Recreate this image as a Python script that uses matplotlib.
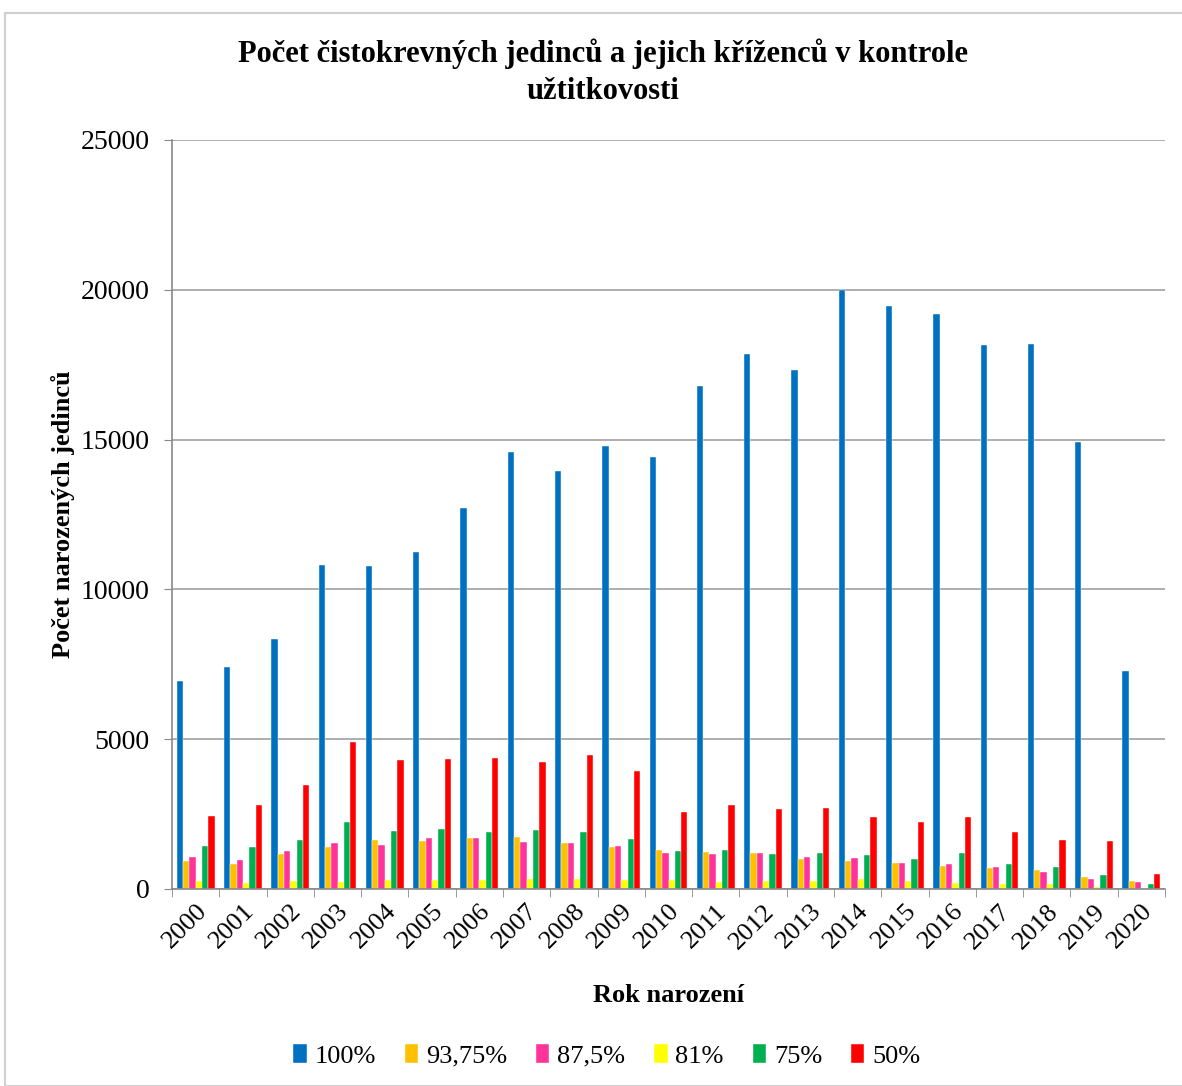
import matplotlib.pyplot as plt
import numpy as np
from matplotlib.patches import Rectangle

years = [str(y) for y in range(2000, 2021)]

series_labels = ["100%", "93,75%", "87,5%", "81%", "75%", "50%"]
series_colors = ["#0070C0", "#FFC000", "#FF3399", "#FFFF00", "#00B050", "#FF0000"]

pct_100 = [6950, 7420, 8350, 10810, 10790, 11255, 12715, 14600, 13960, 14785, 14405,
           16790, 17870, 17325, 20000, 19470, 19200, 18170, 18200, 14920, 7260]
pct_9375 = [935, 835, 1170, 1400, 1635, 1600, 1700, 1725, 1525, 1415, 1300,
            1235, 1190, 1000, 935, 860, 770, 700, 645, 400, 255]
pct_875 = [1075, 960, 1270, 1525, 1470, 1700, 1715, 1580, 1535, 1450, 1190,
           1170, 1215, 1070, 1025, 860, 835, 735, 580, 325, 235]
pct_81 = [270, 200, 270, 235, 310, 300, 310, 335, 335, 310, 290,
          235, 270, 270, 325, 255, 200, 180, 165, 55, 30]
pct_75 = [1425, 1415, 1625, 2225, 1950, 2000, 1915, 1960, 1905, 1670, 1260,
          1290, 1160, 1215, 1125, 1000, 1190, 835, 735, 455, 165]
pct_50 = [2430, 2795, 3470, 4910, 4310, 4330, 4375, 4230, 4475, 3950, 2560,
          2795, 2670, 2695, 2395, 2250, 2405, 1915, 1635, 1600, 500]

series = [pct_100, pct_9375, pct_875, pct_81, pct_75, pct_50]

plt.rcParams["font.family"] = ["Liberation Serif", "DejaVu Serif"]

fig = plt.figure(figsize=(11.82, 10.86), dpi=100)
ax = fig.add_axes([172 / 1182, 1 - 889 / 1086, 993 / 1182, 749 / 1086])

# light frame around the whole chart
fig.patches.append(Rectangle((5 / 1182, 0.0), 1.2, 1 - 13 / 1086, transform=fig.transFigure,
                             fill=False, edgecolor="#D0D0D0", linewidth=1.5))

x = np.arange(len(years))
width = 0.133
offsets = (np.arange(len(series)) - (len(series) - 1) / 2) * width
for vals, off, color, label in zip(series, offsets, series_colors, series_labels):
    ax.bar(x + off, vals, width, color=color, label=label, edgecolor="white", linewidth=0.3)

ax.set_xlim(-0.5, len(years) - 0.5)
ax.set_ylim(0, 25000)
ax.set_yticks(np.arange(0, 25001, 5000))
ax.tick_params(axis="y", labelsize=20, length=6, color="#888888", direction="out", pad=10)
ax.set_xticks(np.arange(-0.5, len(years), 1), minor=True)
ax.set_xticks(x)
ax.set_xticklabels(years, rotation=45, ha="right", rotation_mode="anchor", fontsize=19)
ax.tick_params(axis="x", which="major", length=0, pad=8)
ax.tick_params(axis="x", which="minor", length=6, color="#888888")
ax.grid(axis="y", color="#A0A0A0", linewidth=1.2)
ax.set_axisbelow(True)
for side in ["top", "right"]:
    ax.spines[side].set_visible(False)
for side in ["left", "bottom"]:
    ax.spines[side].set_color("#888888")
    ax.spines[side].set_linewidth(1.2)

ax.set_ylabel("Počet narozených jedinců", fontsize=19, fontweight="bold", labelpad=4)
ax.set_xlabel("Rok narození", fontsize=19, fontweight="bold", labelpad=22)

fig.text(603 / 1182, 1 - 72 / 1086,
         "Počet čistokrevných jedinců a jejich kříženců v kontrole\nužtitkovosti",
         ha="center", va="center", fontsize=22, fontweight="bold", linespacing=1.35)

ax.legend(loc="center", bbox_to_anchor=(607 / 1182, 1 - 1056 / 1086),
          bbox_transform=fig.transFigure, ncol=6, frameon=False, fontsize=19,
          handlelength=0.5, handleheight=0.7, handletextpad=0.3, columnspacing=1.1)

fig.savefig("out.png", dpi=100)
